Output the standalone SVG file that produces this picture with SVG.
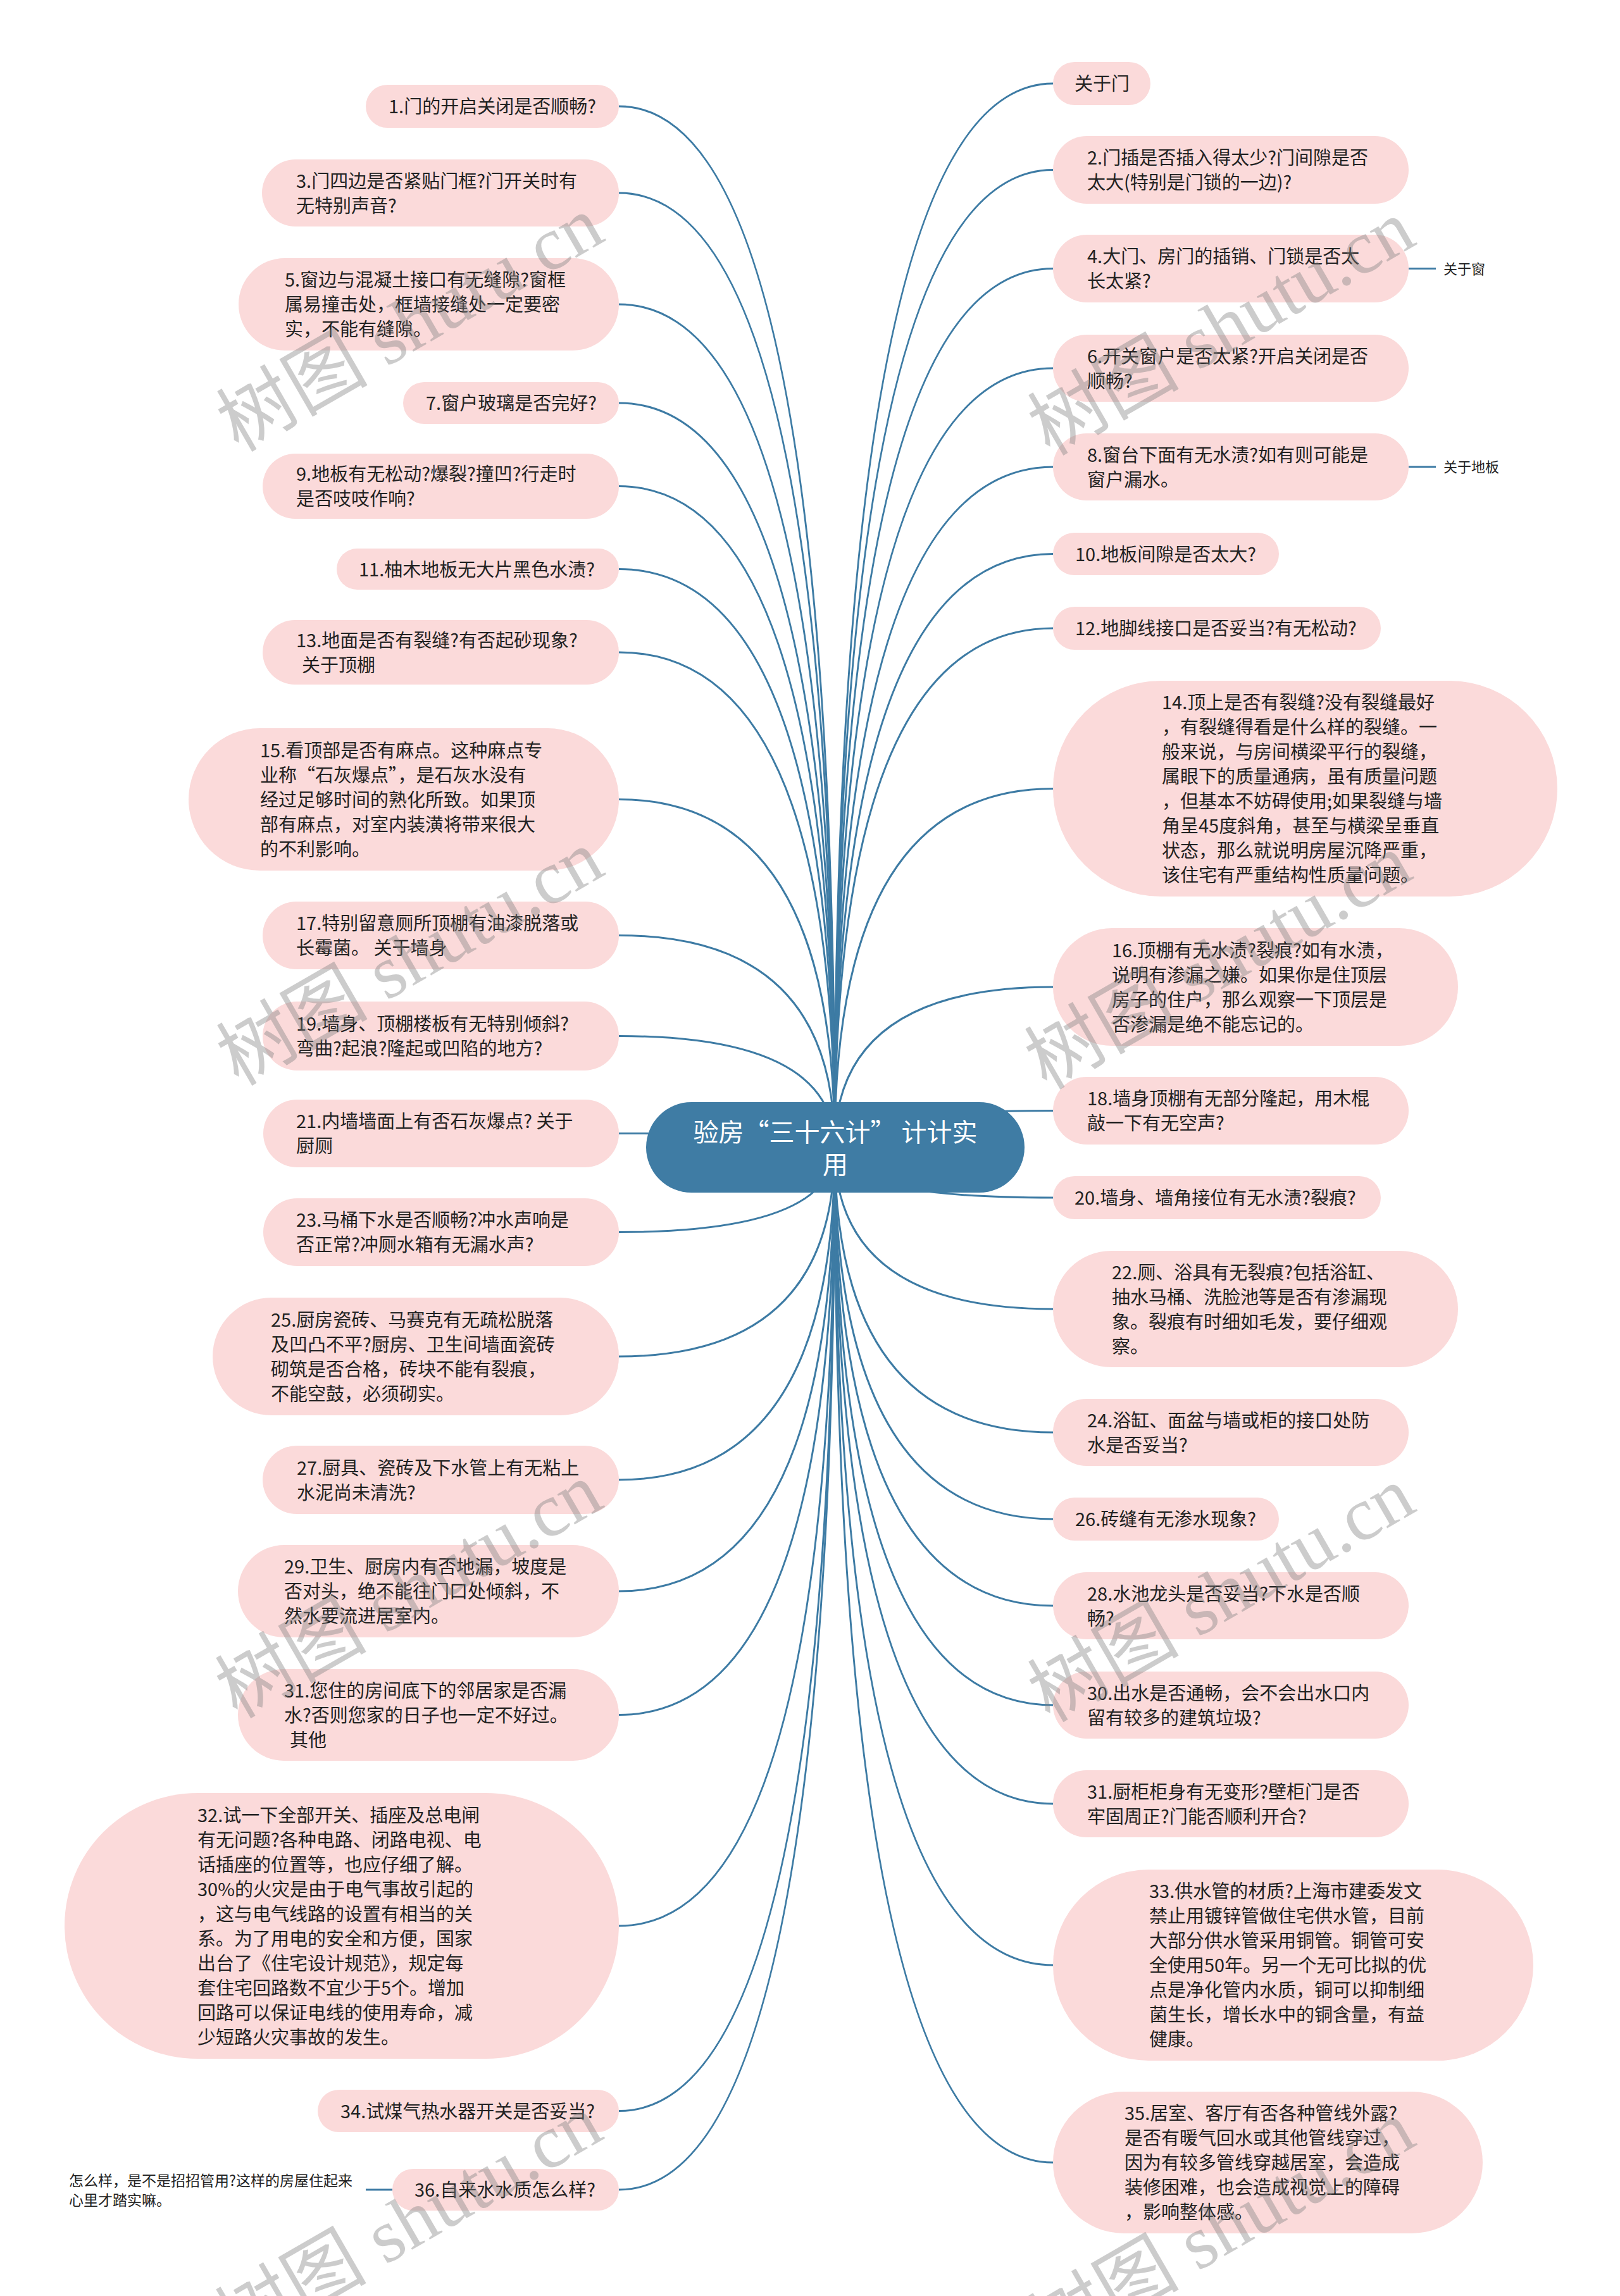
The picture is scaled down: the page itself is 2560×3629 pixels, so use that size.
<svg xmlns="http://www.w3.org/2000/svg" width="2560" height="3629" viewBox="0 0 2560 3629">
<style>
.bg{fill:#ffffff}
.n rect{fill:#fbdada}
.t{font-family:"Noto Sans CJK SC","Noto Sans",sans-serif;font-size:29px;fill:#222222}
.s{font-family:"Noto Sans CJK SC","Noto Sans",sans-serif;font-size:22px;fill:#222222}
.s2{font-family:"Noto Sans CJK SC","Noto Sans",sans-serif;font-size:23px;fill:#222222}
.conn path,.conn line{fill:none;stroke:#3d7ba4;stroke-width:3}
.root rect{fill:#3f7ca4}
.rt{font-family:"Noto Sans CJK SC","Noto Sans",sans-serif;font-size:40px;fill:#ffffff;text-anchor:middle}
.wm{font-family:"Liberation Serif","Noto Sans CJK SC",serif;font-size:120px;fill:#808080;fill-opacity:0.4;text-anchor:middle;dominant-baseline:central}
</style>
<rect class="bg" x="0" y="0" width="2560" height="3629"/>
<g id="connectors" class="conn">
<path d="M1319 1813 Q1319 168 978 168"/>
<path d="M1319 1813 Q1319 305 978 305"/>
<path d="M1319 1813 Q1319 481 978 481"/>
<path d="M1319 1813 Q1319 637 978 637"/>
<path d="M1319 1813 Q1319 768.5 978 768.5"/>
<path d="M1319 1813 Q1319 899.5 978 899.5"/>
<path d="M1319 1813 Q1319 1031 978 1031"/>
<path d="M1319 1813 Q1319 1263.5 978 1263.5"/>
<path d="M1319 1813 Q1319 1478.5 978 1478.5"/>
<path d="M1319 1813 Q1319 1637.5 978 1637.5"/>
<path d="M1319 1813 Q1319 1791.5 978 1791.5"/>
<path d="M1319 1813 Q1319 1947.5 978 1947.5"/>
<path d="M1319 1813 Q1319 2144 978 2144"/>
<path d="M1319 1813 Q1319 2339 978 2339"/>
<path d="M1319 1813 Q1319 2515 978 2515"/>
<path d="M1319 1813 Q1319 2710.5 978 2710.5"/>
<path d="M1319 1813 Q1319 3044 978 3044"/>
<path d="M1319 1813 Q1319 3336.5 978 3336.5"/>
<path d="M1319 1813 Q1319 3461 978 3461"/>
<path d="M1319 1813 Q1319 132 1664 132"/>
<path d="M1319 1813 Q1319 268.5 1664 268.5"/>
<path d="M1319 1813 Q1319 424.5 1664 424.5"/>
<path d="M1319 1813 Q1319 582 1664 582"/>
<path d="M1319 1813 Q1319 738 1664 738"/>
<path d="M1319 1813 Q1319 875.5 1664 875.5"/>
<path d="M1319 1813 Q1319 993 1664 993"/>
<path d="M1319 1813 Q1319 1246.5 1664 1246.5"/>
<path d="M1319 1813 Q1319 1560 1664 1560"/>
<path d="M1319 1813 Q1319 1755.5 1664 1755.5"/>
<path d="M1319 1813 Q1319 1893 1664 1893"/>
<path d="M1319 1813 Q1319 2069 1664 2069"/>
<path d="M1319 1813 Q1319 2264 1664 2264"/>
<path d="M1319 1813 Q1319 2401 1664 2401"/>
<path d="M1319 1813 Q1319 2538 1664 2538"/>
<path d="M1319 1813 Q1319 2695 1664 2695"/>
<path d="M1319 1813 Q1319 2851 1664 2851"/>
<path d="M1319 1813 Q1319 3106 1664 3106"/>
<path d="M1319 1813 Q1319 3418 1664 3418"/>
<line x1="2226" y1="424.5" x2="2269" y2="424.5"/>
<line x1="2226" y1="738" x2="2269" y2="738"/>
<line x1="620" y1="3461" x2="578" y2="3461"/>
</g>
<g id="root" class="root">
<rect x="1021" y="1742" width="598" height="143" rx="71.5"/>
<text class="rt"><tspan x="1320" y="1804">验房“三十六计” 计计实</tspan><tspan x="1320" y="1855">用</tspan></text>
</g>
<g id="n1" class="n"><rect x="578" y="134" width="400" height="68" rx="34"/><text class="t"><tspan x="614" y="179">1.门的开启关闭是否顺畅?</tspan></text></g>
<g id="n3" class="n"><rect x="414" y="252" width="564" height="106" rx="53"/><text class="t"><tspan x="468" y="296.5">3.门四边是否紧贴门框?门开关时有</tspan><tspan x="468" y="335.5">无特别声音?</tspan></text></g>
<g id="n5" class="n"><rect x="377" y="408" width="601" height="146" rx="73"/><text class="t"><tspan x="450" y="453">5.窗边与混凝土接口有无缝隙?窗框</tspan><tspan x="450" y="492">属易撞击处，框墙接缝处一定要密</tspan><tspan x="450" y="531">实，不能有缝隙。</tspan></text></g>
<g id="n7" class="n"><rect x="637" y="604" width="341" height="66" rx="33"/><text class="t"><tspan x="673" y="648">7.窗户玻璃是否完好?</tspan></text></g>
<g id="n9" class="n"><rect x="415" y="717" width="563" height="103" rx="51.5"/><text class="t"><tspan x="468" y="760">9.地板有无松动?爆裂?撞凹?行走时</tspan><tspan x="468" y="799">是否吱吱作响?</tspan></text></g>
<g id="n11" class="n"><rect x="532" y="867" width="446" height="65" rx="32.5"/><text class="t"><tspan x="567" y="910.5">11.柚木地板无大片黑色水渍?</tspan></text></g>
<g id="n13" class="n"><rect x="415" y="980" width="563" height="102" rx="51"/><text class="t"><tspan x="468" y="1022.5">13.地面是否有裂缝?有否起砂现象?</tspan><tspan x="477" y="1061.5">关于顶棚</tspan></text></g>
<g id="n15" class="n"><rect x="298" y="1151" width="680" height="225" rx="112.5"/><text class="t"><tspan x="411" y="1196.5">15.看顶部是否有麻点。这种麻点专</tspan><tspan x="411" y="1235.5">业称“石灰爆点”，是石灰水没有</tspan><tspan x="411" y="1274.5">经过足够时间的熟化所致。如果顶</tspan><tspan x="411" y="1313.5">部有麻点，对室内装潢将带来很大</tspan><tspan x="411" y="1352.5">的不利影响。</tspan></text></g>
<g id="n17" class="n"><rect x="415" y="1425" width="563" height="107" rx="53.5"/><text class="t"><tspan x="468" y="1470">17.特别留意厕所顶棚有油漆脱落或</tspan><tspan x="468" y="1509">长霉菌。 关于墙身</tspan></text></g>
<g id="n19" class="n"><rect x="415" y="1583" width="563" height="109" rx="54.5"/><text class="t"><tspan x="468" y="1629">19.墙身、顶棚楼板有无特别倾斜?</tspan><tspan x="468" y="1668">弯曲?起浪?隆起或凹陷的地方?</tspan></text></g>
<g id="n21" class="n"><rect x="416" y="1738" width="562" height="107" rx="53.5"/><text class="t"><tspan x="468" y="1783">21.内墙墙面上有否石灰爆点? 关于</tspan><tspan x="468" y="1822">厨厕</tspan></text></g>
<g id="n23" class="n"><rect x="416" y="1894" width="562" height="107" rx="53.5"/><text class="t"><tspan x="468" y="1939">23.马桶下水是否顺畅?冲水声响是</tspan><tspan x="468" y="1978">否正常?冲厕水箱有无漏水声?</tspan></text></g>
<g id="n25" class="n"><rect x="336" y="2051" width="642" height="186" rx="93"/><text class="t"><tspan x="428" y="2096.5">25.厨房瓷砖、马赛克有无疏松脱落</tspan><tspan x="428" y="2135.5">及凹凸不平?厨房、卫生间墙面瓷砖</tspan><tspan x="428" y="2174.5">砌筑是否合格，砖块不能有裂痕，</tspan><tspan x="428" y="2213.5">不能空鼓，必须砌实。</tspan></text></g>
<g id="n27" class="n"><rect x="415" y="2285" width="563" height="108" rx="54"/><text class="t"><tspan x="469" y="2330.5">27.厨具、瓷砖及下水管上有无粘上</tspan><tspan x="469" y="2369.5">水泥尚未清洗?</tspan></text></g>
<g id="n29" class="n"><rect x="376" y="2442" width="602" height="146" rx="73"/><text class="t"><tspan x="449" y="2487">29.卫生、厨房内有否地漏，坡度是</tspan><tspan x="449" y="2526">否对头，绝不能往门口处倾斜，不</tspan><tspan x="449" y="2565">然水要流进居室内。</tspan></text></g>
<g id="n31l" class="n"><rect x="376" y="2638" width="602" height="145" rx="72.5"/><text class="t"><tspan x="449" y="2682.5">31.您住的房间底下的邻居家是否漏</tspan><tspan x="449" y="2721.5">水?否则您家的日子也一定不好过。</tspan><tspan x="458" y="2760.5">其他</tspan></text></g>
<g id="n32" class="n"><rect x="102" y="2834" width="876" height="420" rx="210"/><text class="t"><tspan x="312" y="2879.5">32.试一下全部开关、插座及总电闸</tspan><tspan x="312" y="2918.5">有无问题?各种电路、闭路电视、电</tspan><tspan x="312" y="2957.5">话插座的位置等，也应仔细了解。</tspan><tspan x="312" y="2996.5">30%的火灾是由于电气事故引起的</tspan><tspan x="312" y="3035.5">，这与电气线路的设置有相当的关</tspan><tspan x="312" y="3074.5">系。为了用电的安全和方便，国家</tspan><tspan x="312" y="3113.5">出台了《住宅设计规范》，规定每</tspan><tspan x="312" y="3152.5">套住宅回路数不宜少于5个。增加</tspan><tspan x="312" y="3191.5">回路可以保证电线的使用寿命，减</tspan><tspan x="312" y="3230.5">少短路火灾事故的发生。</tspan></text></g>
<g id="n34" class="n"><rect x="502" y="3303" width="476" height="67" rx="33.5"/><text class="t"><tspan x="538" y="3347.5">34.试煤气热水器开关是否妥当?</tspan></text></g>
<g id="n36" class="n"><rect x="620" y="3428" width="358" height="66" rx="33"/><text class="t"><tspan x="655" y="3472">36.自来水水质怎么样?</tspan></text></g>
<g id="n36a"><text class="s2"><tspan x="109" y="3455">怎么样，是不是招招管用?这样的房屋住起来</tspan><tspan x="109" y="3486">心里才踏实嘛。</tspan></text></g>
<g id="r0" class="n"><rect x="1664" y="98" width="154" height="68" rx="34"/><text class="t"><tspan x="1698" y="143">关于门</tspan></text></g>
<g id="r2" class="n"><rect x="1664" y="215" width="562" height="107" rx="53.5"/><text class="t"><tspan x="1718" y="260">2.门插是否插入得太少?门间隙是否</tspan><tspan x="1718" y="299">太大(特别是门锁的一边)?</tspan></text></g>
<g id="r4" class="n"><rect x="1664" y="371" width="562" height="107" rx="53.5"/><text class="t"><tspan x="1718" y="416">4.大门、房门的插销、门锁是否太</tspan><tspan x="1718" y="455">长太紧?</tspan></text></g>
<g id="r4a"><text class="s"><tspan x="2281" y="433">关于窗</tspan></text></g>
<g id="r6" class="n"><rect x="1664" y="529" width="562" height="106" rx="53"/><text class="t"><tspan x="1718" y="573.5">6.开关窗户是否太紧?开启关闭是否</tspan><tspan x="1718" y="612.5">顺畅?</tspan></text></g>
<g id="r8" class="n"><rect x="1664" y="685" width="562" height="106" rx="53"/><text class="t"><tspan x="1718" y="729.5">8.窗台下面有无水渍?如有则可能是</tspan><tspan x="1718" y="768.5">窗户漏水。</tspan></text></g>
<g id="r8a"><text class="s"><tspan x="2281" y="746">关于地板</tspan></text></g>
<g id="r10" class="n"><rect x="1664" y="842" width="357" height="67" rx="33.5"/><text class="t"><tspan x="1699" y="886.5">10.地板间隙是否太大?</tspan></text></g>
<g id="r12" class="n"><rect x="1664" y="959" width="518" height="68" rx="34"/><text class="t"><tspan x="1699" y="1004">12.地脚线接口是否妥当?有无松动?</tspan></text></g>
<g id="r14" class="n"><rect x="1664" y="1076" width="797" height="341" rx="170.5"/><text class="t"><tspan x="1836" y="1121">14.顶上是否有裂缝?没有裂缝最好</tspan><tspan x="1836" y="1160">，有裂缝得看是什么样的裂缝。一</tspan><tspan x="1836" y="1199">般来说，与房间横梁平行的裂缝，</tspan><tspan x="1836" y="1238">属眼下的质量通病，虽有质量问题</tspan><tspan x="1836" y="1277">，但基本不妨碍使用;如果裂缝与墙</tspan><tspan x="1836" y="1316">角呈45度斜角，甚至与横梁呈垂直</tspan><tspan x="1836" y="1355">状态，那么就说明房屋沉降严重，</tspan><tspan x="1836" y="1394">该住宅有严重结构性质量问题。</tspan></text></g>
<g id="r16" class="n"><rect x="1664" y="1467" width="640" height="186" rx="93"/><text class="t"><tspan x="1757" y="1512.5">16.顶棚有无水渍?裂痕?如有水渍，</tspan><tspan x="1757" y="1551.5">说明有渗漏之嫌。如果你是住顶层</tspan><tspan x="1757" y="1590.5">房子的住户，那么观察一下顶层是</tspan><tspan x="1757" y="1629.5">否渗漏是绝不能忘记的。</tspan></text></g>
<g id="r18" class="n"><rect x="1664" y="1702" width="562" height="107" rx="53.5"/><text class="t"><tspan x="1718" y="1747">18.墙身顶棚有无部分隆起，用木棍</tspan><tspan x="1718" y="1786">敲一下有无空声?</tspan></text></g>
<g id="r20" class="n"><rect x="1664" y="1859" width="518" height="68" rx="34"/><text class="t"><tspan x="1698" y="1904">20.墙身、墙角接位有无水渍?裂痕?</tspan></text></g>
<g id="r22" class="n"><rect x="1664" y="1977" width="640" height="184" rx="92"/><text class="t"><tspan x="1757" y="2021.5">22.厕、浴具有无裂痕?包括浴缸、</tspan><tspan x="1757" y="2060.5">抽水马桶、洗脸池等是否有渗漏现</tspan><tspan x="1757" y="2099.5">象。裂痕有时细如毛发，要仔细观</tspan><tspan x="1757" y="2138.5">察。</tspan></text></g>
<g id="r24" class="n"><rect x="1664" y="2211" width="562" height="106" rx="53"/><text class="t"><tspan x="1718" y="2255.5">24.浴缸、面盆与墙或柜的接口处防</tspan><tspan x="1718" y="2294.5">水是否妥当?</tspan></text></g>
<g id="r26" class="n"><rect x="1664" y="2367" width="357" height="68" rx="34"/><text class="t"><tspan x="1699" y="2412">26.砖缝有无渗水现象?</tspan></text></g>
<g id="r28" class="n"><rect x="1664" y="2485" width="562" height="106" rx="53"/><text class="t"><tspan x="1718" y="2529.5">28.水池龙头是否妥当?下水是否顺</tspan><tspan x="1718" y="2568.5">畅?</tspan></text></g>
<g id="r30" class="n"><rect x="1664" y="2642" width="562" height="106" rx="53"/><text class="t"><tspan x="1718" y="2686.5">30.出水是否通畅，会不会出水口内</tspan><tspan x="1718" y="2725.5">留有较多的建筑垃圾?</tspan></text></g>
<g id="r31" class="n"><rect x="1664" y="2798" width="562" height="106" rx="53"/><text class="t"><tspan x="1718" y="2842.5">31.厨柜柜身有无变形?壁柜门是否</tspan><tspan x="1718" y="2881.5">牢固周正?门能否顺利开合?</tspan></text></g>
<g id="r33" class="n"><rect x="1664" y="2955" width="759" height="302" rx="151"/><text class="t"><tspan x="1816" y="3000">33.供水管的材质?上海市建委发文</tspan><tspan x="1816" y="3039">禁止用镀锌管做住宅供水管，目前</tspan><tspan x="1816" y="3078">大部分供水管采用铜管。铜管可安</tspan><tspan x="1816" y="3117">全使用50年。另一个无可比拟的优</tspan><tspan x="1816" y="3156">点是净化管内水质，铜可以抑制细</tspan><tspan x="1816" y="3195">菌生长，增长水中的铜含量，有益</tspan><tspan x="1816" y="3234">健康。</tspan></text></g>
<g id="r35" class="n"><rect x="1664" y="3306" width="679" height="224" rx="112"/><text class="t"><tspan x="1777" y="3351">35.居室、客厅有否各种管线外露?</tspan><tspan x="1777" y="3390">是否有暖气回水或其他管线穿过，</tspan><tspan x="1777" y="3429">因为有较多管线穿越居室，会造成</tspan><tspan x="1777" y="3468">装修困难，也会造成视觉上的障碍</tspan><tspan x="1777" y="3507">，影响整体感。</tspan></text></g>
<g id="watermark">
<text class="wm" x="648" y="512" transform="rotate(-30 648 512)">树图 shutu.cn</text>
<text class="wm" x="648" y="1514" transform="rotate(-30 648 1514)">树图 shutu.cn</text>
<text class="wm" x="646" y="2514" transform="rotate(-30 646 2514)">树图 shutu.cn</text>
<text class="wm" x="646" y="3512" transform="rotate(-30 646 3512)">树图 shutu.cn</text>
<text class="wm" x="1930" y="518" transform="rotate(-30 1930 518)">树图 shutu.cn</text>
<text class="wm" x="1925" y="1520" transform="rotate(-30 1925 1520)">树图 shutu.cn</text>
<text class="wm" x="1930" y="2520" transform="rotate(-30 1930 2520)">树图 shutu.cn</text>
<text class="wm" x="1930" y="3522" transform="rotate(-30 1930 3522)">树图 shutu.cn</text>
</g>
</svg>
